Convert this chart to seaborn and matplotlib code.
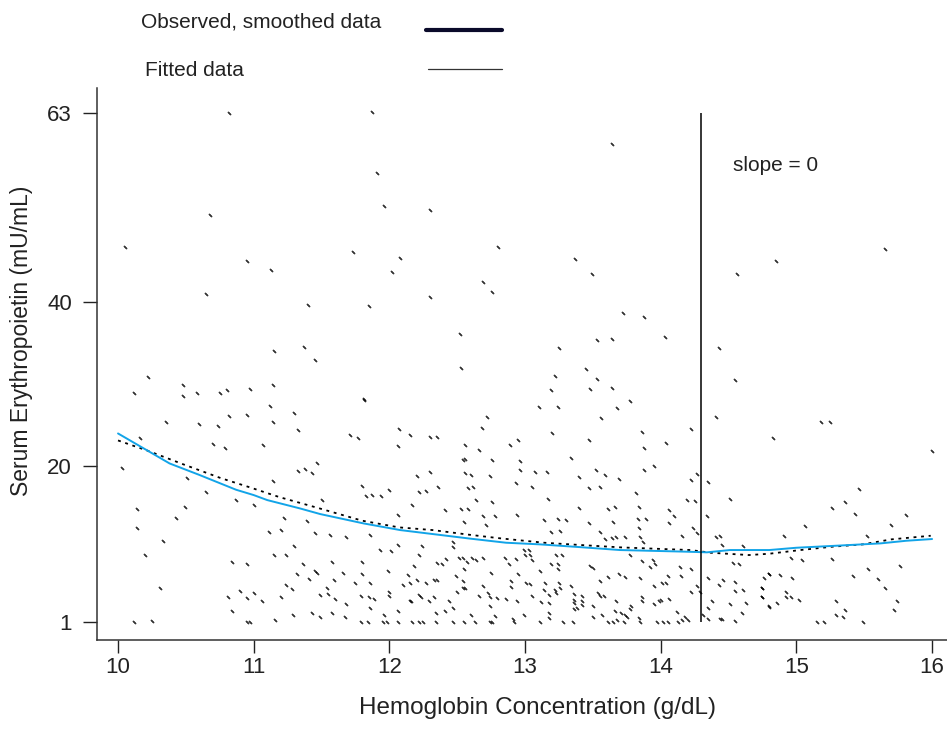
import seaborn as sns
import matplotlib
matplotlib.use("Agg")
import matplotlib.pyplot as plt
import numpy as np
import pandas as pd

# --- data ---
hgb = [
    # upper part of the cloud
    10.82, 11.87, 11.91, 10.68, 11.96, 12.30, 10.05, 11.73, 12.80, 10.95, 11.13, 12.02, 12.08, 12.69,
    12.76, 10.65, 12.30, 11.40, 11.85, 12.52, 11.15, 11.37, 11.45, 12.53, 10.22, 10.48, 10.48, 10.12,
    10.58, 10.75, 10.80, 10.97, 11.14, 11.81,
    13.64, 13.37, 13.49, 13.72, 13.88, 13.64, 14.03, 13.53, 13.25, 13.45, 13.22, 13.53, 13.64, 13.48,
    13.19, 14.56, 14.85, 15.65, 14.43, 14.55,
    # Hb 10 - 11.5
    11.12, 10.82, 10.95, 11.30, 10.35, 10.60, 10.74, 11.14, 11.33, 10.70, 10.79, 11.07, 10.16, 10.03,
    10.51, 10.65, 10.87, 11.00, 11.14, 11.33, 11.38, 11.43, 11.47, 11.50, 10.14, 10.49, 10.43, 10.14,
    11.22, 11.39, 11.11, 11.20, 11.45, 10.33, 11.30, 10.20, 11.15, 11.24, 10.84, 10.95, 11.36, 11.32,
    11.45, 11.47, 11.41, 10.31, 11.24, 11.28, 11.54, 10.90, 11.00, 10.81, 10.95, 11.06, 11.20, 11.49,
    11.55, 10.84, 11.29, 11.43, 11.49, 10.12, 10.25, 10.95, 10.97, 11.16,
    # Hb 11.5 - 13.2
    11.81, 13.10, 12.72, 12.07, 11.71, 11.77, 12.15, 12.30, 12.35, 12.68, 12.95, 12.89, 12.56, 12.66,
    12.06, 12.54, 12.56, 12.76, 12.96, 12.96, 13.07, 12.30, 12.20, 12.56, 12.60, 12.74, 12.93, 13.16,
    11.80, 12.00, 12.27, 12.36, 12.22, 12.58, 12.62, 13.05, 11.83, 11.94, 11.87, 12.64, 12.76, 12.17,
    12.41, 12.53, 12.58, 12.06, 12.69, 12.78, 12.94, 13.17, 12.55, 12.71, 11.56, 11.68, 11.86, 12.47,
    12.06, 12.24, 11.93, 12.01, 12.22, 12.47, 12.42, 12.51, 12.54, 12.57, 12.61, 12.64, 12.69, 12.85,
    12.93, 12.99, 13.03, 13.00, 13.04, 13.05, 12.88, 12.39, 12.35, 11.58, 11.80, 12.55, 12.75, 12.95,
    13.11, 11.66, 11.80, 11.99, 12.14, 12.18, 12.49, 11.59, 11.75, 11.86, 12.10, 12.15, 12.20, 12.27,
    12.33, 12.35, 12.54, 12.69, 12.90, 12.90, 13.01, 13.04, 13.15, 11.79, 11.85, 11.89, 12.00, 12.00,
    12.22, 12.23, 12.33, 12.29, 12.15, 12.50, 12.54, 12.56, 12.66, 12.73, 12.74, 12.79, 12.86, 12.94,
    13.05, 13.12, 13.18, 13.18, 11.60, 11.68, 11.86, 12.06, 12.16, 12.44, 12.47, 12.74, 11.58, 11.67,
    11.96, 12.34, 12.41, 12.60, 12.78, 12.91, 12.99, 13.18, 13.18, 11.79, 11.84, 11.95, 11.98, 12.06,
    12.17, 12.22, 12.25, 12.34, 12.47, 12.55, 12.63, 12.74, 12.76, 12.92, 13.11,
    # Hb 13.1 - 14.8
    13.24, 13.68, 13.77, 13.56, 13.86, 13.20, 13.47, 14.04, 13.88, 14.22, 14.41, 13.34, 13.52, 13.59,
    13.95, 13.40, 13.69, 13.88, 13.82, 13.55, 13.47, 14.35, 14.22, 14.27, 14.51, 14.19, 14.25, 13.40,
    13.61, 13.66, 13.84, 14.06, 13.14, 13.24, 13.30, 13.47, 13.65, 13.84, 13.83, 13.89, 14.06, 14.24,
    14.10, 14.34, 13.26, 13.19, 13.55, 13.64, 13.59, 13.67, 13.74, 13.85, 14.16, 14.27, 13.87, 14.41,
    14.44, 14.45, 13.23, 13.27, 13.19, 13.24, 13.24, 13.77, 13.86, 13.94, 14.14, 14.22, 13.92, 13.96,
    13.48, 13.50, 13.85, 13.74, 13.69, 13.61, 14.05, 14.01, 14.04, 14.15, 14.27, 14.43, 14.35, 14.46,
    14.55, 14.55, 14.58, 14.53, 13.14, 13.25, 13.34, 13.55, 13.95, 13.22, 13.23, 13.26, 13.36, 13.42,
    13.54, 13.55, 13.42, 13.36, 13.36, 13.38, 13.42, 13.50, 13.58, 13.67, 13.86, 13.86, 13.78, 13.77,
    13.95, 13.99, 14.00, 14.06, 14.12, 14.18, 14.22, 14.29, 14.38, 14.51, 14.63, 14.60, 14.75, 14.75,
    14.80, 14.80, 13.36, 13.57, 13.66, 13.71, 13.75, 13.74, 13.84, 14.35, 14.45, 14.31, 13.28, 13.35,
    13.50, 13.61, 13.65, 13.68, 13.73, 13.85, 13.97, 14.02, 14.05, 14.13, 14.16, 14.20, 14.35, 14.44,
    14.55,
    # Hb above 14.8
    15.25, 15.18, 14.83, 16.00, 15.46, 15.36, 15.26, 15.81, 15.43, 15.70, 15.06, 14.91, 14.61, 15.52,
    14.96, 15.26, 15.04, 15.76, 15.53, 15.60, 15.65, 15.42, 14.80, 14.76, 14.88, 14.97, 14.61, 14.75,
    14.92, 14.75, 14.92, 14.96, 15.02, 14.86, 14.80, 15.29, 15.74, 15.72, 15.36, 15.29, 15.34, 15.15,
    15.20, 15.49,
]
epo = [
    63.0, 63.1, 55.6, 50.5, 51.6, 51.2, 46.6, 46.0, 46.7, 44.9, 43.8, 43.6, 45.3, 42.4,
    41.2, 40.9, 40.5, 39.6, 39.5, 36.1, 34.0, 34.5, 32.9, 31.9, 30.8, 29.8, 28.5, 28.9,
    28.9, 28.9, 29.3, 29.4, 29.8, 28.1,
    59.2, 45.2, 43.3, 38.6, 38.1, 35.5, 35.7, 35.3, 34.4, 31.8, 30.9, 30.6, 29.5, 29.4,
    29.2, 43.3, 44.9, 46.4, 34.4, 30.5,
    27.3, 26.1, 26.2, 26.5, 25.4, 25.1, 24.9, 25.3, 24.4, 22.7, 22.2, 22.5, 23.4, 19.7,
    18.5, 16.8, 15.8, 15.2, 18.2, 19.4, 19.6, 19.1, 20.4, 15.9, 14.8, 15.0, 13.6, 12.5,
    13.6, 13.3, 12.0, 12.2, 11.8, 10.9, 10.3, 9.2, 9.2, 9.2, 8.3, 8.1, 8.1, 6.8,
    7.2, 7.0, 6.2, 5.2, 5.5, 5.0, 5.2, 4.8, 4.5, 4.1, 3.9, 3.6, 4.1, 4.3,
    4.4, 2.3, 1.9, 2.1, 1.6, 1.0, 1.1, 1.0, 1.0, 1.2,
    28.0, 27.2, 25.9, 24.5, 23.8, 23.4, 23.8, 23.5, 23.5, 24.6, 23.1, 22.6, 22.6, 21.9,
    22.4, 20.7, 20.9, 20.7, 20.6, 19.5, 19.2, 19.2, 18.8, 19.1, 18.9, 18.8, 17.9, 19.3,
    17.5, 17.1, 16.9, 17.4, 16.8, 17.3, 17.4, 17.4, 16.3, 16.3, 16.5, 15.9, 15.6, 15.3,
    14.6, 14.8, 14.8, 14.0, 13.9, 13.9, 14.0, 16.0, 13.2, 12.8, 11.6, 11.4, 11.6, 10.7,
    10.4, 10.3, 9.8, 9.6, 9.2, 10.1, 8.7, 8.8, 8.8, 8.3, 8.8, 8.5, 8.8, 8.8,
    8.7, 9.8, 9.8, 9.1, 9.1, 8.6, 8.1, 8.0, 8.2, 8.3, 8.3, 7.4, 7.0, 6.8,
    7.2, 7.0, 6.9, 7.2, 6.7, 7.8, 6.6, 6.1, 5.8, 5.7, 5.5, 5.8, 6.1, 5.8,
    6.1, 6.1, 6.0, 5.4, 6.0, 5.3, 5.7, 5.6, 5.8, 4.2, 4.1, 3.8, 4.7, 4.2,
    4.3, 4.0, 4.0, 3.6, 3.6, 4.7, 5.1, 5.1, 4.2, 4.5, 4.1, 3.9, 3.8, 3.5,
    4.2, 3.4, 3.3, 4.3, 3.8, 3.2, 2.7, 2.3, 3.5, 3.5, 2.7, 2.9, 2.1, 1.6,
    1.9, 2.1, 2.4, 1.9, 1.7, 1.4, 1.9, 1.5, 2.1, 1.0, 1.0, 1.0, 1.0, 1.0,
    1.0, 1.0, 1.0, 1.0, 1.0, 1.0, 1.0, 1.0, 1.0, 1.0, 1.0,
    27.2, 27.1, 27.9, 25.8, 24.1, 24.0, 23.1, 22.8, 22.2, 24.5, 25.9, 21.0, 19.5, 18.9,
    20.0, 18.6, 18.4, 19.5, 16.7, 17.4, 17.3, 18.1, 18.3, 19.0, 16.0, 15.8, 15.7, 14.9,
    14.8, 15.0, 15.0, 14.6, 13.4, 13.5, 13.4, 13.1, 13.2, 12.5, 13.5, 13.5, 13.1, 12.5,
    13.9, 13.9, 12.1, 11.9, 12.0, 11.2, 11.1, 11.4, 11.4, 11.4, 11.5, 11.8, 10.7, 11.4,
    11.5, 10.4, 9.2, 9.2, 8.1, 8.1, 7.5, 9.2, 8.4, 8.6, 7.7, 7.5, 7.7, 8.0,
    7.8, 7.6, 6.4, 6.5, 6.8, 6.5, 6.6, 5.7, 5.7, 6.6, 5.4, 5.5, 6.3, 6.1,
    5.9, 4.8, 8.1, 8.2, 4.9, 5.7, 5.4, 6.0, 5.4, 4.9, 4.5, 5.1, 4.4, 4.2,
    4.5, 4.2, 3.6, 3.7, 3.3, 2.7, 3.1, 2.9, 4.2, 3.5, 4.0, 3.5, 2.9, 2.6,
    3.2, 3.5, 3.7, 3.8, 2.2, 1.6, 4.7, 4.7, 3.6, 3.2, 3.3, 2.1, 5.2, 4.1,
    2.9, 6.8, 2.6, 1.9, 2.3, 2.1, 1.6, 1.9, 1.5, 2.7, 1.4, 1.9, 1.0, 1.0,
    1.6, 1.0, 1.0, 1.2, 1.0, 1.0, 1.0, 1.0, 1.0, 1.0, 1.2, 1.2, 1.4, 1.4,
    1.1,
    25.4, 25.4, 23.4, 21.8, 17.2, 15.6, 14.9, 14.0, 14.1, 12.8, 12.7, 11.5, 10.3, 11.5,
    8.8, 8.7, 8.5, 7.8, 7.4, 6.2, 5.2, 6.6, 6.8, 6.4, 6.7, 6.4, 4.9, 5.2,
    4.7, 4.1, 4.1, 4.1, 3.7, 3.3, 2.8, 3.5, 3.5, 2.5, 2.5, 1.8, 1.6, 1.0,
    1.0, 1.0,
]

# smoothed observed curve and fitted curve
obs_x = [10.0, 10.22, 10.48, 10.76, 10.97, 11.19, 11.47, 11.80, 12.07, 12.32, 12.59, 12.82, 13.14,
         13.41, 13.71, 13.96, 14.22, 14.37, 14.65, 14.80, 15.03, 15.26, 15.49, 15.70, 15.99]
obs_y = [23.1, 21.84, 20.2, 18.5, 17.4, 16.2, 14.9, 13.33, 12.52, 12.19, 11.62, 11.18, 10.65,
         10.37, 10.08, 9.92, 9.76, 9.43, 9.15, 9.31, 9.76, 10.16, 10.45, 11.06, 11.50]
fit_x = [10.0, 10.38, 10.60, 10.87, 11.00, 11.10, 11.34, 11.49, 11.81, 12.08, 12.60, 12.86, 13.11,
         13.40, 13.70, 14.19, 14.34, 14.51, 14.80, 15.00, 15.30, 15.62, 15.81, 16.0]
fit_y = [23.95, 20.3, 18.9, 17.1, 16.45, 15.84, 14.83, 14.14, 13.0, 12.19, 11.14, 10.65, 10.45,
         10.12, 9.76, 9.56, 9.48, 9.76, 9.76, 10.04, 10.29, 10.57, 10.89, 11.10]

slope0_hgb = 14.3
x_ticks = [10, 11, 12, 13, 14, 15, 16]
y_ticks = [1, 20, 40, 63]

sns.set_style("ticks")
plt.rcParams['font.family'] = ['Liberation Sans', 'DejaVu Sans']

fig = plt.figure(figsize=(9.47, 7.5), dpi=100)
ax = fig.add_axes([97 / 947, 1 - 640 / 750, 850 / 947, 552 / 750])

pts = pd.DataFrame({"hgb": hgb, "epo": epo})
sns.scatterplot(data=pts, x="hgb", y="epo", ax=ax, marker=(2, 2, 45), color="black",
                s=6, linewidth=0.9, alpha=0.8, legend=False)

sns.lineplot(x=obs_x, y=obs_y, ax=ax, color="black", linewidth=1.3, sort=False,
             linestyle=(0, (1.6, 2.6)))
sns.lineplot(x=fit_x, y=fit_y, ax=ax, color="#12a4e8", linewidth=1.4, sort=False)

ax.vlines(slope0_hgb, y_ticks[0], y_ticks[-1], color="black", linewidth=1.1)
ax.text(14.53, 56.6, "slope = 0", fontsize=15, va="center", ha="left", color="#222222")

ax.set_xlim(9.845, 16.11)
ax.set_ylim(-1.19, 66.0)
ax.set_xticks(x_ticks)
ax.set_yticks(y_ticks)
ax.tick_params(axis="y", length=10, width=1, pad=8, labelsize=16, colors="#222222")
ax.tick_params(axis="x", length=9.5, width=1, pad=3, labelsize=16, colors="#222222")
sns.despine(ax=ax)
for s in ["left", "bottom"]:
    ax.spines[s].set_linewidth(1.1)
    ax.spines[s].set_color("#333333")

ax.set_xlabel("Hemoglobin Concentration (g/dL)", fontsize=17.5, color="#222222")
ax.set_ylabel("Serum Erythropoietin (mU/mL)", fontsize=16.5, color="#222222")
ax.xaxis.set_label_coords(0.518, -0.103)
ax.yaxis.set_label_coords(-0.075, 0.542)

# legend drawn above the axes
fig.text(141 / 947, 1 - 22 / 750, "Observed, smoothed data", fontsize=15, va="center", color="#222222")
fig.text(145 / 947, 1 - 70 / 750, "Fitted data", fontsize=15, va="center", color="#222222")
fig.add_artist(plt.Line2D([426 / 947, 502 / 947], [1 - 30 / 750] * 2, color="#0a0a2a", linewidth=3))
fig.add_artist(plt.Line2D([428 / 947, 502 / 947], [1 - 69 / 750] * 2, color="#333333", linewidth=0.9))

plt.savefig("out.png", dpi=100)
